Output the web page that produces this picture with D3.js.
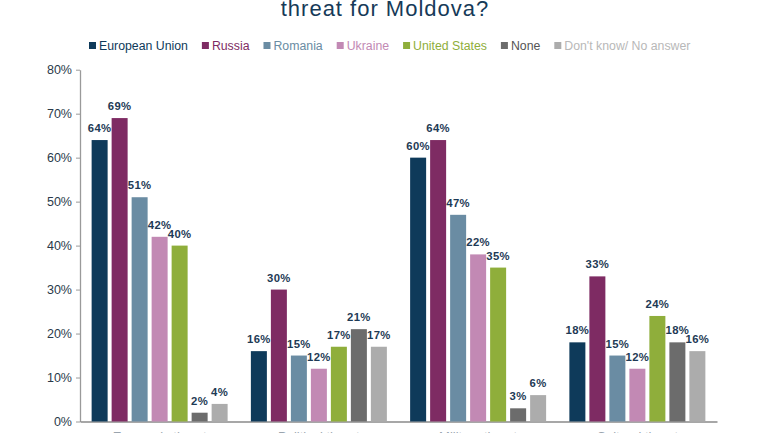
<!DOCTYPE html>
<html>
<head>
<meta charset="utf-8">
<script src="https://cdn.jsdelivr.net/npm/d3@7"></script>
<style>
  html, body { margin: 0; padding: 0; background: #ffffff; }
  svg { display: block; font-family: "Liberation Sans", Arial, sans-serif; }
</style>
</head>
<body>
<svg id="chart" width="770" height="433"></svg>
<script>
// ---- data ----
const title = "threat for Moldova?";
const categories = ["Economic threat", "Political threat", "Military threat", "Cultural threat"];
const series = ["European Union", "Russia", "Romania", "Ukraine", "United States", "None", "Don't know/ No answer"];
const colors = ["#0e3a5a", "#7e2b63", "#6a8ca3", "#c289b4", "#8fae3b", "#6c6c6c", "#acacac"];
const legendTextColors = ["#0e3a5a", "#7e2b63", "#6a8ca3", "#c289b4", "#8fae3b", "#555555", "#b8b8b8"];
const valuesEU = [64, 16, 60, 18];
const valuesRussia = [69, 30, 64, 33];
const valuesRomania = [51, 15, 47, 15];
const valuesUkraine = [42, 12, 38, 12];
const valuesUS = [40, 17, 35, 24];
const valuesNone = [2, 21, 3, 18];
const valuesDK = [4, 17, 6, 16];
// printed labels (one printed label in the source differs from its bar height)
const labelsUkraine = ["42%", "12%", "22%", "12%"];
const yTicks = [0, 10, 20, 30, 40, 50, 60, 70, 80];

const seriesValues = [valuesEU, valuesRussia, valuesRomania, valuesUkraine, valuesUS, valuesNone, valuesDK];

const svg = d3.select("#chart");
const W = 770, H = 433;
const margin = { left: 80, right: 53, top: 69.7, bottom: 11.5 };
const plotL = margin.left, plotR = W - margin.right;
const plotT = margin.top, plotB = H - margin.bottom;

const x0 = d3.scaleBand().domain(categories).range([plotL, plotR]).padding(0);
const innerW = 144;
const x1 = d3.scaleBand().domain(series)
  .range([(x0.bandwidth() - innerW) / 2, (x0.bandwidth() + innerW) / 2])
  .paddingInner(0.2).paddingOuter(0.2);
const y = d3.scaleLinear().domain([0, 80]).range([plotB, plotT]);

// title
svg.append("text")
  .attr("x", W / 2).attr("y", 16)
  .attr("text-anchor", "middle")
  .attr("font-size", 22).attr("letter-spacing", 1)
  .attr("fill", "#163a58")
  .text(title);

// legend
const legend = svg.append("g").attr("transform", "translate(89,46)");
let lx = 0;
series.forEach((s, i) => {
  const g = legend.append("g").attr("transform", `translate(${lx},0)`);
  g.append("rect").attr("x", 0).attr("y", -4).attr("width", 7).attr("height", 7).attr("fill", colors[i]);
  const t = g.append("text").attr("x", 10).attr("y", 4)
    .attr("font-size", 12.3).attr("fill", legendTextColors[i]).text(s);
  lx += 10 + t.node().getComputedTextLength() + 14;
});

// y axis
const yAxis = d3.axisLeft(y).tickValues(yTicks).tickFormat(d => d + "%").tickSize(4).tickSizeOuter(0);
const ya = svg.append("g").attr("transform", `translate(${plotL},0)`).call(yAxis);
ya.select(".domain").attr("stroke", "#9a9a9a").attr("stroke-width", 1.3);
ya.selectAll(".tick line").attr("stroke", "#9a9a9a");
ya.selectAll(".tick text").attr("font-size", 12.5).attr("fill", "#2a3a4a")
  .attr("font-family", "Liberation Sans, Arial, sans-serif").attr("x", -8);

// x axis (category labels sit mostly below the visible frame, as in the source)
const xAxis = d3.axisBottom(x0).tickSize(0).tickSizeOuter(0);
const xa = svg.append("g").attr("transform", `translate(0,${plotB})`).call(xAxis);
xa.select(".domain").attr("stroke", "#8a8a8a").attr("stroke-width", 1.3);
xa.selectAll(".tick text").attr("font-size", 13).attr("fill", "#9aa4ae")
  .attr("font-family", "Liberation Sans, Arial, sans-serif").attr("dy", "1.3em");

// bars
const groups = svg.append("g").selectAll("g").data(categories).join("g")
  .attr("transform", d => `translate(${x0(d)},0)`);

groups.each(function(cat, ci) {
  const g = d3.select(this);
  series.forEach((s, si) => {
    const v = seriesValues[si][ci];
    g.append("rect")
      .attr("x", x1(s)).attr("width", x1.bandwidth())
      .attr("y", y(v)).attr("height", y(0) - y(v))
      .attr("fill", colors[si]);
  });
  series.forEach((s, si) => {
    const v = seriesValues[si][ci];
    const lab = si === 3 ? labelsUkraine[ci] : v + "%";
    g.append("text")
      .attr("x", x1(s) + x1.bandwidth() / 2)
      .attr("y", y(v) - 8)
      .attr("text-anchor", "middle")
      .attr("font-size", 11.3).attr("font-weight", "bold")
      .attr("letter-spacing", 0.4)
      .attr("fill", "#1e3a55")
      .text(lab);
  });
});
</script>
</body>
</html>
